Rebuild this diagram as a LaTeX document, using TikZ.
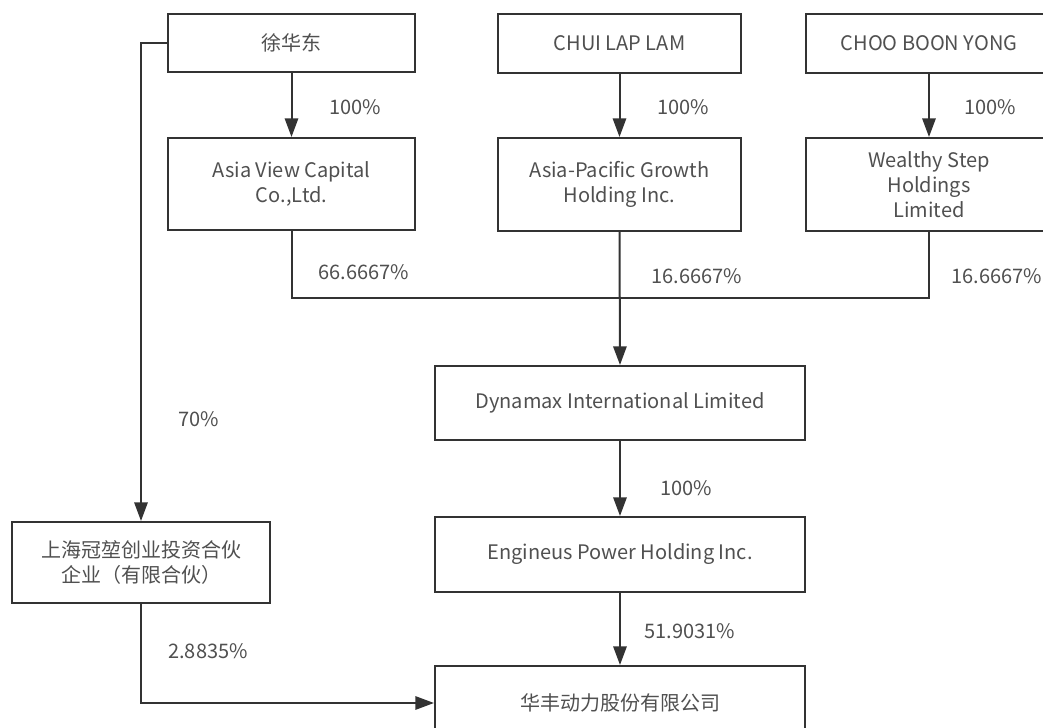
\documentclass[tikz,border=0pt]{standalone}
\usepackage{fontspec}
\setmainfont{Noto Sans CJK SC}
\usetikzlibrary{arrows.meta}
\definecolor{linegray}{HTML}{333333}
\definecolor{textgray}{HTML}{505050}
\begin{document}
\begin{tikzpicture}[x=0.75pt,y=-0.75pt,
  box/.style={draw=linegray,line width=1.5pt,rectangle,align=center,text=textgray,
    font=\fontsize{15}{18.75}\selectfont,inner sep=0pt},
  pct/.style={text=textgray,font=\fontsize{15}{18.75}\selectfont,inner sep=0pt},
  arr/.style={draw=linegray,line width=1.5pt,-{Triangle[length=14pt,width=10pt]}},
  ln/.style={draw=linegray,line width=1.5pt}]
\useasboundingbox (0,0) rectangle (1043,728);
\clip (0,0) rectangle (1043,728);
\fill[white] (0,0) rectangle (1043,728);
%%% the three owners at the top
\node[box,minimum width=247*0.75pt,minimum height=58*0.75pt] (xhd) at (291.5,43) {徐华东};
\node[box,minimum width=243*0.75pt,minimum height=59*0.75pt] (chui) at (619.5,43.5) {CHUI LAP LAM};
\node[box,minimum width=246*0.75pt,minimum height=59*0.75pt] (choo) at (929,43.5) {CHOO BOON YONG};
%%% their holding companies
\node[box,minimum width=247*0.75pt,minimum height=92*0.75pt] (avc) at (291.5,184) {Asia View Capital\\Co.,Ltd.};
\node[box,minimum width=243*0.75pt,minimum height=93*0.75pt] (apg) at (619.5,184.5) {Asia-Pacific Growth\\Holding Inc.};
\node[box,minimum width=246*0.75pt,minimum height=93*0.75pt] (wsh) at (929,184.5) {Wealthy Step\\Holdings\\Limited};
%%% the chain down to the listed company
\node[box,minimum width=370*0.75pt,minimum height=74*0.75pt] (dyn) at (620,403) {Dynamax International Limited};
\node[box,minimum width=370*0.75pt,minimum height=75*0.75pt] (eph) at (620,554.5) {Engineus Power Holding Inc.};
\node[box,minimum width=370*0.75pt,minimum height=74*0.75pt] (hf) at (620,703) {华丰动力股份有限公司};
\node[box,minimum width=258*0.75pt,minimum height=81*0.75pt] (sh) at (141,562.5) {上海冠堃创业投资合伙\\企业（有限合伙）};
\coordinate (j) at (619.5,298);
%%% connectors
\draw[arr] (xhd) -- (avc);
\draw[arr] (chui) -- (apg);
\draw[arr] (choo) -- (wsh);
\draw[ln] (avc.south) |- (j);
\draw[ln] (wsh.south) |- (j);
\draw[arr] (apg.south) -- (dyn.north);
\draw[arr] (dyn) -- (eph);
\draw[arr] (eph) -- (hf);
\draw[arr] (xhd.west) -| (sh.north);
\draw[arr] (sh.south) |- (hf.west);
%%% percentages
\node[pct] (p1) at (355,107) {100\%};
\node[pct] (p2) at (683,107) {100\%};
\node[pct] (p3) at (990,107) {100\%};
\node[pct] (p4) at (364,272) {66.6667\%};
\node[pct] (p5) at (697,276) {16.6667\%};
\node[pct] (p6) at (997,276) {16.6667\%};
\node[pct] (p7) at (199,419) {70\%};
\node[pct] (p8) at (686,488) {100\%};
\node[pct] (p9) at (690,631) {51.9031\%};
\node[pct] (p10) at (208,651) {2.8835\%};
\end{tikzpicture}
\end{document}
